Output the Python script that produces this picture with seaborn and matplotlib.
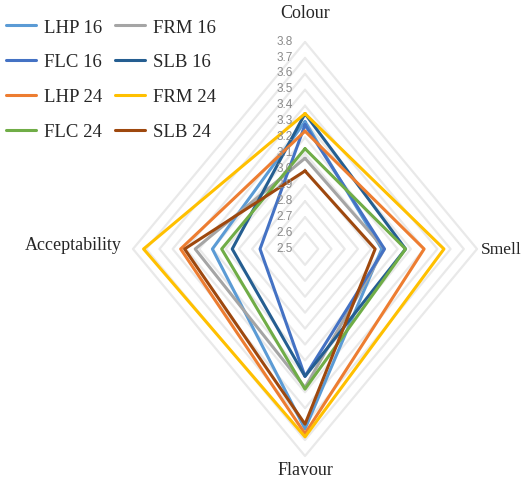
import numpy as np
import pandas as pd
import matplotlib
matplotlib.use("Agg")
import matplotlib.pyplot as plt
import seaborn as sns

# Data
categories = ['Colour', 'Smell', 'Flavour', 'Acceptability']
series = ['LHP 16', 'FRM 16', 'FLC 16', 'SLB 16', 'LHP 24', 'FRM 24', 'FLC 24', 'SLB 24']
lhp16 = [3.30, 3.08, 3.63, 3.20]
frm16 = [3.07, 3.10, 3.37, 3.33]
flc16 = [3.28, 3.10, 3.30, 2.84]
slb16 = [3.35, 3.26, 3.30, 3.05]
lhp24 = [3.24, 3.40, 3.66, 3.44]
frm24 = [3.35, 3.55, 3.68, 3.72]
flc24 = [3.13, 3.26, 3.38, 3.13]
slb24 = [2.99, 3.03, 3.60, 3.41]
ticks = [2.5, 2.6, 2.7, 2.8, 2.9, 3.0, 3.1, 3.2, 3.3, 3.4, 3.5, 3.6, 3.7, 3.8]

colors = ['#5B9BD5', '#A5A5A5', '#4472C4', '#255E91',
          '#ED7D31', '#FFC000', '#70AD47', '#9E480E']

RMIN = 2.5
angles = np.array([0, 90, 180, 270]) * np.pi / 180  # clockwise from top


def to_xy(vals):
    r = np.array(vals) - RMIN
    return r * np.sin(angles), r * np.cos(angles)


rows = []
for name, vals in zip(series, [lhp16, frm16, flc16, slb16, lhp24, frm24, flc24, slb24]):
    x, y = to_xy(vals)
    x = np.append(x, x[0])
    y = np.append(y, y[0])
    for i in range(len(x)):
        rows.append({'series': name, 'x': x[i], 'y': y[i]})
df = pd.DataFrame(rows)

sns.set_style('white')
plt.rcParams['font.family'] = ['Liberation Serif', 'DejaVu Serif']

fig = plt.figure(figsize=(5.26, 4.85), dpi=100)
ax = fig.add_axes([0, 0, 1, 1])
ax.set_xlim(-2.305, 1.670)
ax.set_ylim(-1.476, 1.570)
ax.axis('off')

# diamond gridlines
for t in ticks[1:]:
    gx, gy = to_xy([t] * 4)
    ax.plot(np.append(gx, gx[0]), np.append(gy, gy[0]), color='#e9e9e9', lw=1.6, zorder=1)

sns.lineplot(data=df, x='x', y='y', hue='series', hue_order=series, palette=colors,
             sort=False, estimator=None, units='series', linewidth=2.2, ax=ax, zorder=3)

# radial tick labels
for t in ticks:
    ax.annotate(f'{t:.1f}', (0, t - RMIN), xytext=(-9, 1), textcoords='offset points',
                ha='right', va='center', fontsize=8.5, color='#8a8a8a',
                family='Liberation Sans')

# category labels
rmax = ticks[-1] - RMIN
ax.annotate(categories[0], (0, rmax), xytext=(0, 21), textcoords='offset points',
            ha='center', va='center', fontsize=13)
ax.annotate(categories[1], (rmax, 0), xytext=(3, 0), textcoords='offset points',
            ha='left', va='center', fontsize=12.5)
ax.annotate(categories[2], (0, -rmax), xytext=(0, -10), textcoords='offset points',
            ha='center', va='center', fontsize=13)
ax.annotate(categories[3], (-rmax, 0), xytext=(-8, 3), textcoords='offset points',
            ha='right', va='center', fontsize=13)

handles, labels = ax.get_legend_handles_labels()
ax.get_legend().remove()
lookup = dict(zip(labels, handles))
leg_order = ['LHP 16', 'FLC 16', 'LHP 24', 'FLC 24', 'FRM 16', 'SLB 16', 'FRM 24', 'SLB 24']
fig.legend([lookup[k] for k in leg_order], leg_order, loc='upper left',
           bbox_to_anchor=(0.012, 0.96), ncol=2, frameon=False, fontsize=13.5,
           handlelength=1.6, handletextpad=0.4, columnspacing=0.7,
           labelspacing=0.95, borderaxespad=0, borderpad=0)

fig.savefig('out.png', dpi=100)
